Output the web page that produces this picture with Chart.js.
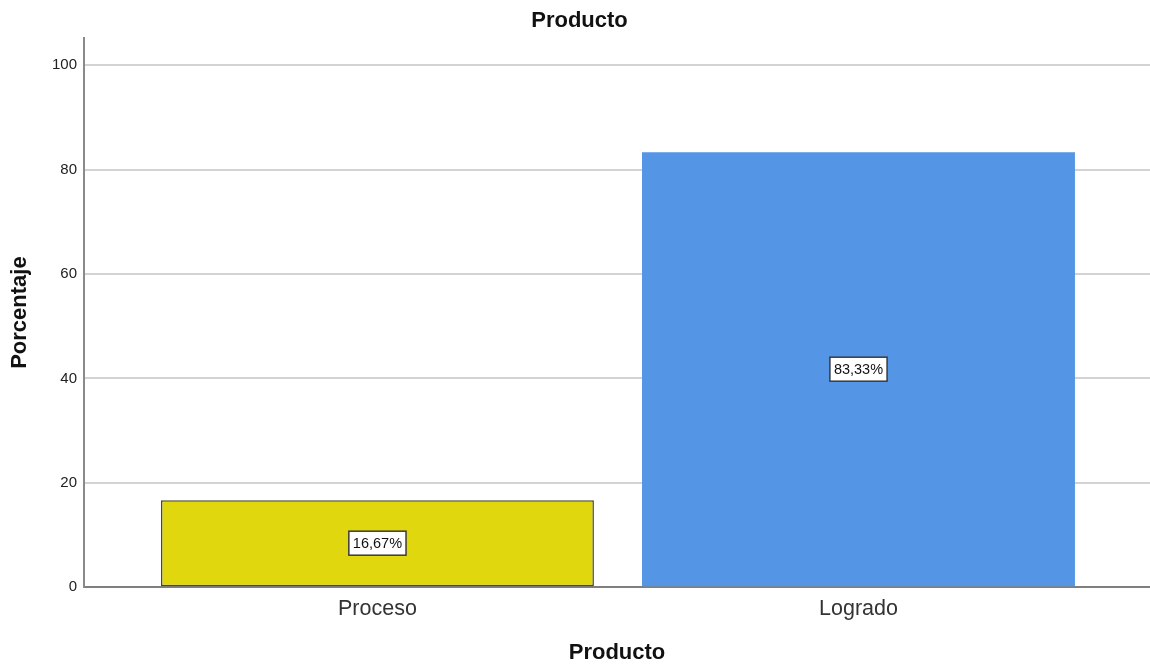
<!DOCTYPE html>
<html>
<head>
<meta charset="utf-8">
<script src="https://cdn.jsdelivr.net/npm/chart.js@4.4.1/dist/chart.umd.min.js"></script>
<style>
  html, body { margin: 0; padding: 0; background: #fff; }
  #wrap { width: 1150px; height: 664px; }
</style>
</head>
<body>
<div id="wrap"><canvas id="barChart"></canvas></div>
<script>
  'use strict';

  // chart data
  var categories = ['Proceso', 'Logrado'];
  var percentages = [16.67, 83.33];
  var yTicks = [0, 20, 40, 60, 80, 100];
  var barColors = ['#e1d70f', '#5595e5'];
  var barBorders = ['#4b4824', '#5595e5'];

  Chart.defaults.font.family = '"Liberation Sans", Arial, sans-serif';

  function fmtPct(v) {
    return v.toFixed(2).replace('.', ',') + '%';
  }

  // white boxed value labels in the middle of each bar
  var valueBoxes = {
    id: 'valueBoxes',
    afterDatasetsDraw: function(chart) {
      var ctx = chart.ctx;
      var meta = chart.getDatasetMeta(0);
      ctx.save();
      ctx.font = '14.5px "Liberation Sans", Arial, sans-serif';
      ctx.textAlign = 'center';
      ctx.textBaseline = 'middle';
      meta.data.forEach(function(bar, i) {
        var text = fmtPct(percentages[i]);
        var cx = bar.x;
        var cy = (bar.y + bar.base) / 2;
        var w = ctx.measureText(text).width + 8;
        var h = 24;
        ctx.fillStyle = '#ffffff';
        ctx.fillRect(cx - w / 2, cy - h / 2, w, h);
        ctx.lineWidth = 1.5;
        ctx.strokeStyle = '#3a3a3a';
        ctx.strokeRect(cx - w / 2, cy - h / 2, w, h);
        ctx.fillStyle = '#111111';
        ctx.fillText(text, cx, cy + 1);
      });
      ctx.restore();
    }
  };

  var ctx = document.getElementById('barChart').getContext('2d');

  new Chart(ctx, {
    type: 'bar',
    data: {
      datasets: [{
        data: categories.map(function(c, i) { return { x: i + 1, y: percentages[i] }; }),
        backgroundColor: barColors,
        borderColor: barBorders,
        borderWidth: [1.5, 0],
        borderSkipped: false,
        barPercentage: 0.9,
        categoryPercentage: 1.0
      }]
    },
    options: {
      responsive: true,
      maintainAspectRatio: false,
      animation: false,
      layout: { padding: { left: 9, right: 0, top: 0, bottom: 0 } },
      plugins: {
        legend: { display: false },
        tooltip: { enabled: false },
        title: {
          display: true,
          text: 'Producto',
          color: '#111',
          font: { size: 22, weight: 'bold', lineHeight: 1 },
          padding: { top: 10, bottom: 6 }
        }
      },
      scales: {
        x: {
          type: 'linear',
          min: 0.39,
          max: 2.606,
          offset: false,
          z: 1,
          grid: { display: false, drawTicks: false },
          border: { display: true, color: '#7f7f7f', width: 2 },
          afterBuildTicks: function(scale) {
            scale.ticks = categories.map(function(c, i) { return { value: i + 1 }; });
          },
          ticks: {
            color: '#333',
            font: { size: 21.5 },
            padding: 9,
            callback: function(v) { return categories[v - 1]; }
          },
          title: {
            display: true,
            text: 'Producto',
            color: '#111',
            font: { size: 22, weight: 'bold', lineHeight: 1 },
            padding: { top: 11, bottom: 0 }
          }
        },
        y: {
          min: 0,
          max: 105.2,
          afterBuildTicks: function(scale) {
            scale.ticks = yTicks.map(function(v) { return { value: v }; });
          },
          afterFit: function(scale) { scale.width = 75; },
          grid: { color: '#d3d3d3', lineWidth: 2, drawTicks: false },
          border: { display: true, color: '#8a8a8a', width: 2 },
          ticks: { color: '#222', font: { size: 15 }, padding: 7 },
          title: {
            display: true,
            text: 'Porcentaje',
            color: '#111',
            font: { size: 22, weight: 'bold', lineHeight: 1 },
            padding: { top: 0, bottom: 0 }
          }
        }
      }
    },
    plugins: [valueBoxes]
  });
</script>
</body>
</html>
